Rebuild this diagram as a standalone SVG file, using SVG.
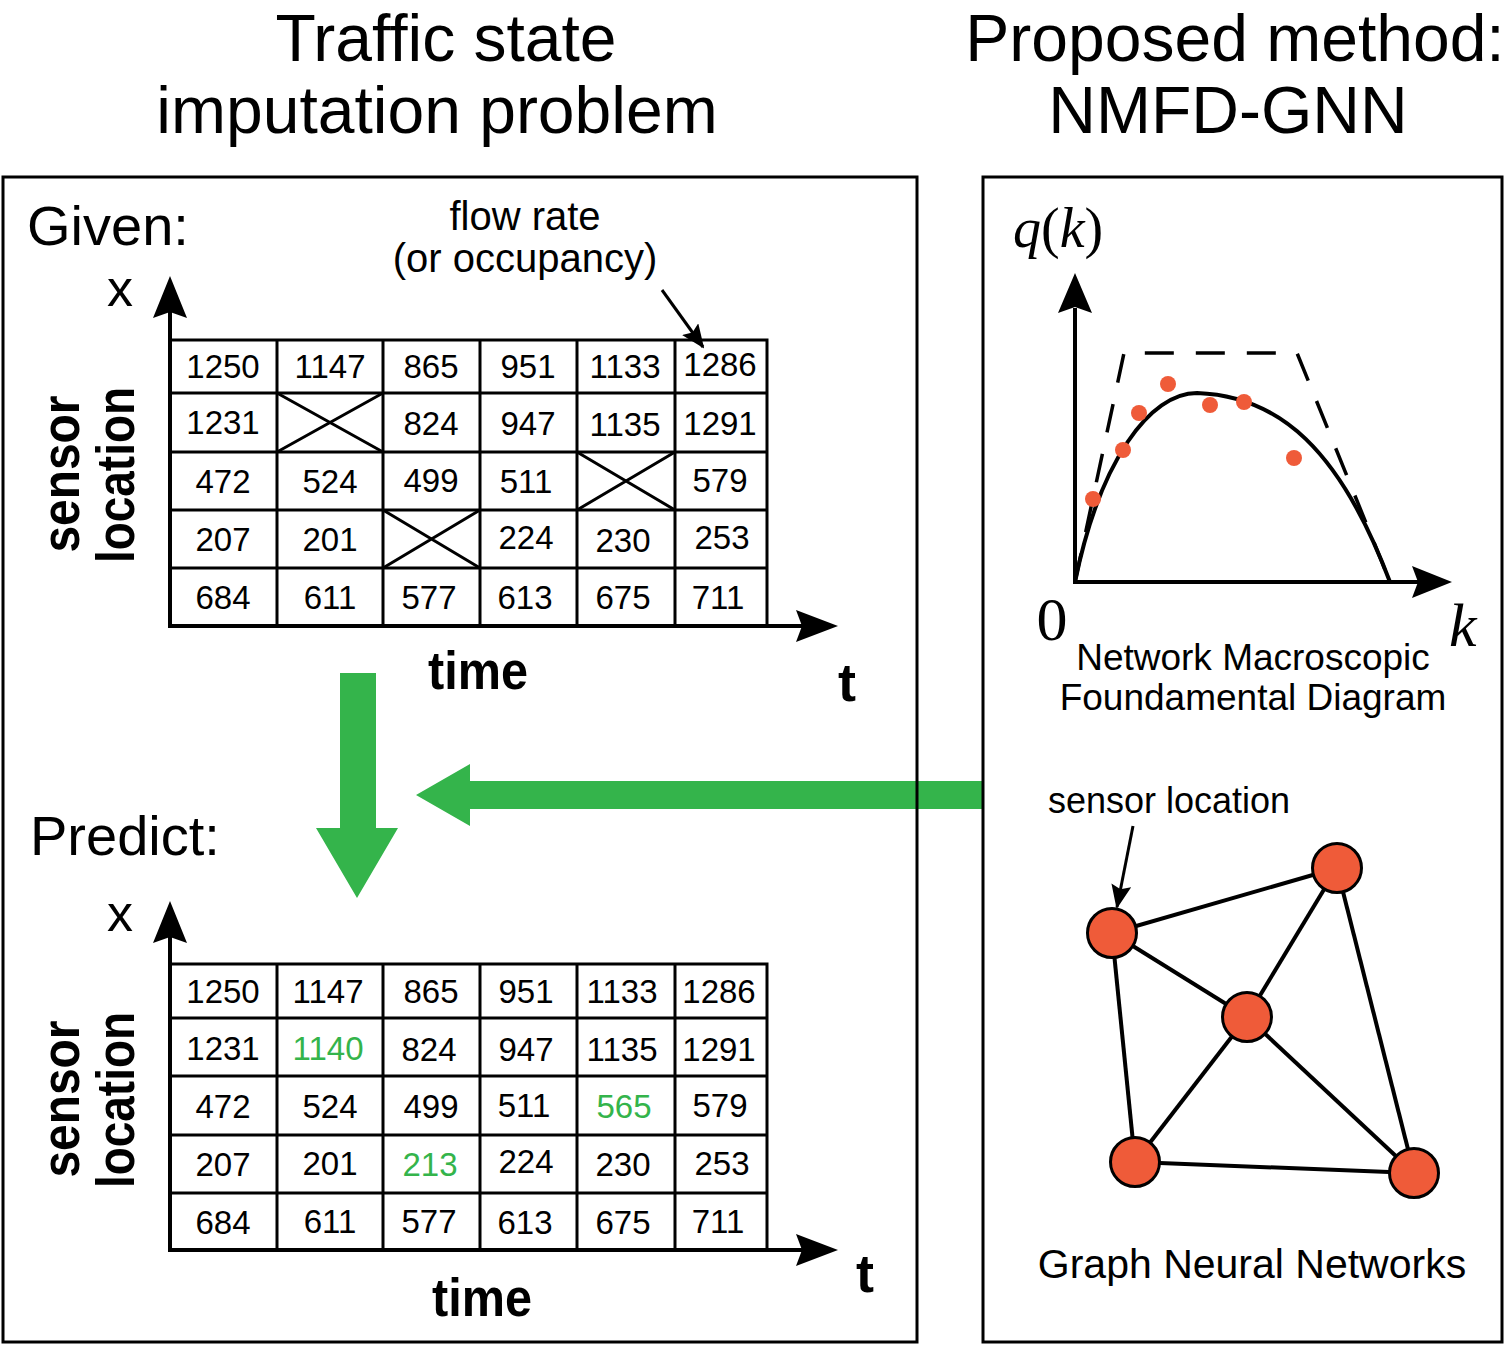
<svg xmlns="http://www.w3.org/2000/svg" width="1510" height="1345" viewBox="0 0 1510 1345">
<style>
.sans{font-family:"Liberation Sans",Arial,Helvetica,sans-serif;fill:#000}
.title{font-size:66px;text-anchor:middle}
.head{font-size:56px}
.cell{font-size:33px;text-anchor:middle}
.green{fill:#34b44b}
.grid{stroke:#000;stroke-width:3;fill:none}
.bold{font-weight:bold}
.serif{font-family:"Liberation Serif","Times New Roman",serif;fill:#000}
.edge{stroke:#000;stroke-width:4}
.node{fill:#ef5b39;stroke:#000;stroke-width:3}
.dot{fill:#ef5b39}
</style>
<defs>
<marker id="ah" viewBox="0 0 24 20" refX="22" refY="10" markerWidth="24" markerHeight="20" markerUnits="userSpaceOnUse" orient="auto">
<path d="M0,0 L24,10 L0,20 L4,10 Z" fill="#000"/>
</marker>
</defs>
<rect width="1510" height="1345" fill="#fff"/>

<g id="titles" class="sans">
<text class="title" x="446" y="61">Traffic state</text>
<text class="title" x="437" y="133">imputation problem</text>
<text class="title" x="1235" y="61">Proposed method:</text>
<text class="title" x="1228" y="133">NMFD-GNN</text>
</g>

<g id="arrows-green" fill="#34b44b">
<polygon points="340,673 376,673 376,828 398,828 357,898 316,828 340,828"/>
<polygon points="983,781 983,809 470,809 470,826 416,795 470,764 470,781"/>
</g>

<g id="panel-left">
<rect x="3" y="177" width="914" height="1165" fill="none" stroke="#000" stroke-width="3"/>
</g>
<g id="panel-right">
<rect x="983" y="177" width="519" height="1165" fill="none" stroke="#000" stroke-width="3"/>
</g>

<g id="given" class="sans">
<text class="head" x="27" y="245">Given:</text>
<text x="525" y="230" font-size="40" text-anchor="middle">flow rate</text>
<text x="525" y="272" font-size="40" text-anchor="middle">(or occupancy)</text>
<line x1="662" y1="290" x2="703" y2="347" stroke="#000" stroke-width="3" marker-end="url(#ah)"/>
<text x="107" y="306" font-size="52">x</text>
<text class="bold" font-size="54" textLength="157" lengthAdjust="spacingAndGlyphs" text-anchor="middle" transform="translate(79,474) rotate(-90)">sensor</text>
<text class="bold" font-size="54" textLength="176" lengthAdjust="spacingAndGlyphs" text-anchor="middle" transform="translate(134,475) rotate(-90)">location</text>
<text class="bold" x="428" y="689" font-size="54" textLength="100" lengthAdjust="spacingAndGlyphs">time</text>
<text class="bold" x="838" y="701" font-size="54">t</text>
</g>

<g id="table-given">
<path class="grid" d="M170,340 H767 V626 M170,393 H767 M170,452 H767 M170,510 H767 M170,568 H767 M277,340 V626 M383,340 V626 M480,340 V626 M577,340 V626 M675,340 V626"/>
<path class="grid" d="M277,393 L383,452 M383,393 L277,452 M577,452 L675,510 M675,452 L577,510 M383,510 L480,568 M480,510 L383,568"/>
<line x1="170" y1="626" x2="802" y2="626" stroke="#000" stroke-width="4"/>
<polygon points="838,626 796,610 802,626 796,642" fill="#000"/>
<line x1="170" y1="628" x2="170" y2="312" stroke="#000" stroke-width="4"/>
<polygon points="170,276 153,318 170,312 187,318" fill="#000"/>
<g class="sans cell">
<text x="223" y="378">1250</text><text x="330" y="378">1147</text><text x="431" y="378">865</text><text x="528" y="378">951</text><text x="625" y="378">1133</text><text x="720" y="376">1286</text>
<text x="223" y="434">1231</text><text x="431" y="435">824</text><text x="528" y="435">947</text><text x="625" y="436">1135</text><text x="720" y="435">1291</text>
<text x="223" y="493">472</text><text x="330" y="493">524</text><text x="431" y="492">499</text><text x="526" y="493">511</text><text x="720" y="492">579</text>
<text x="223" y="551">207</text><text x="330" y="551">201</text><text x="526" y="549">224</text><text x="623" y="552">230</text><text x="722" y="549">253</text>
<text x="223" y="609">684</text><text x="330" y="609">611</text><text x="429" y="609">577</text><text x="525" y="609">613</text><text x="623" y="609">675</text><text x="718" y="609">711</text>
</g>
</g>

<g id="predict" class="sans">
<text class="head" x="30" y="855">Predict:</text>
<text x="107" y="931" font-size="52">x</text>
<text class="bold" font-size="54" textLength="157" lengthAdjust="spacingAndGlyphs" text-anchor="middle" transform="translate(79,1099) rotate(-90)">sensor</text>
<text class="bold" font-size="54" textLength="176" lengthAdjust="spacingAndGlyphs" text-anchor="middle" transform="translate(134,1100) rotate(-90)">location</text>
<text class="bold" x="432" y="1316" font-size="54" textLength="100" lengthAdjust="spacingAndGlyphs">time</text>
<text class="bold" x="856" y="1292" font-size="54">t</text>
</g>

<g id="table-predict">
<path class="grid" d="M170,964 H767 V1250 M170,1018 H767 M170,1076 H767 M170,1135 H767 M170,1193 H767 M277,964 V1250 M383,964 V1250 M480,964 V1250 M577,964 V1250 M675,964 V1250"/>
<line x1="170" y1="1250" x2="802" y2="1250" stroke="#000" stroke-width="4"/>
<polygon points="838,1250 796,1234 802,1250 796,1266" fill="#000"/>
<line x1="170" y1="1252" x2="170" y2="937" stroke="#000" stroke-width="4"/>
<polygon points="170,901 153,943 170,937 187,943" fill="#000"/>
<g class="sans cell">
<text x="223" y="1003">1250</text><text x="328" y="1003">1147</text><text x="431" y="1003">865</text><text x="526" y="1003">951</text><text x="622" y="1003">1133</text><text x="719" y="1003">1286</text>
<text x="223" y="1060">1231</text><text class="green" x="328" y="1060">1140</text><text x="429" y="1061">824</text><text x="526" y="1061">947</text><text x="622" y="1061">1135</text><text x="719" y="1061">1291</text>
<text x="223" y="1118">472</text><text x="330" y="1118">524</text><text x="431" y="1118">499</text><text x="524" y="1117">511</text><text class="green" x="624" y="1118">565</text><text x="720" y="1117">579</text>
<text x="223" y="1176">207</text><text x="330" y="1175">201</text><text class="green" x="430" y="1176">213</text><text x="526" y="1173">224</text><text x="623" y="1176">230</text><text x="722" y="1175">253</text>
<text x="223" y="1234">684</text><text x="330" y="1233">611</text><text x="429" y="1233">577</text><text x="525" y="1234">613</text><text x="623" y="1234">675</text><text x="718" y="1233">711</text>
</g>
</g>

<g id="nmfd">
<text class="serif" x="1013" y="247" font-size="56"><tspan font-style="italic">q</tspan>(<tspan font-style="italic">k</tspan>)</text>
<line x1="1075" y1="584" x2="1075" y2="308" stroke="#000" stroke-width="4"/>
<polygon points="1075,273 1058,313 1075,307 1092,313" fill="#000"/>
<line x1="1073" y1="582" x2="1418" y2="582" stroke="#000" stroke-width="4"/>
<polygon points="1452,582 1412,566 1418,582 1412,598" fill="#000"/>
<path d="M1075,582 L1124,353 L1297,353 L1390,582" fill="none" stroke="#000" stroke-width="3.5" stroke-dasharray="29 22"/>
<path d="M1075,582 C1100,460 1150,393 1197,393 C1280,396 1340,450 1390,582" fill="none" stroke="#000" stroke-width="4"/>
<g class="dot">
<circle cx="1093" cy="499" r="8"/><circle cx="1123" cy="450" r="8"/><circle cx="1139" cy="413" r="8"/><circle cx="1168" cy="384" r="8"/><circle cx="1210" cy="405" r="8"/><circle cx="1244" cy="402" r="8"/><circle cx="1294" cy="458" r="8"/>
</g>
<text class="serif" x="1052" y="640" font-size="62" text-anchor="middle">0</text>
<text class="serif" x="1449" y="646" font-size="62" font-style="italic">k</text>
<text class="sans" x="1253" y="670" font-size="37" text-anchor="middle">Network Macroscopic</text>
<text class="sans" x="1253" y="710" font-size="37" text-anchor="middle">Foundamental Diagram</text>
</g>

<g id="gnn-label" class="sans">
<text x="1169" y="813" font-size="36" text-anchor="middle">sensor location</text>
<line x1="1133" y1="826" x2="1117" y2="907" stroke="#000" stroke-width="3" marker-end="url(#ah)"/>
<text x="1252" y="1278" font-size="41" text-anchor="middle">Graph Neural Networks</text>
</g>

<g id="edges">
<line class="edge" x1="1112" y1="933" x2="1337" y2="868"/>
<line class="edge" x1="1112" y1="933" x2="1247" y2="1017"/>
<line class="edge" x1="1112" y1="933" x2="1135" y2="1162"/>
<line class="edge" x1="1337" y1="868" x2="1247" y2="1017"/>
<line class="edge" x1="1337" y1="868" x2="1414" y2="1173"/>
<line class="edge" x1="1247" y1="1017" x2="1135" y2="1162"/>
<line class="edge" x1="1247" y1="1017" x2="1414" y2="1173"/>
<line class="edge" x1="1135" y1="1162" x2="1414" y2="1173"/>
</g>
<g id="node-a"><circle class="node" cx="1112" cy="933" r="24.5"/></g>
<g id="node-b"><circle class="node" cx="1337" cy="868" r="24.5"/></g>
<g id="node-c"><circle class="node" cx="1247" cy="1017" r="24.5"/></g>
<g id="node-d"><circle class="node" cx="1135" cy="1162" r="24.5"/></g>
<g id="node-e"><circle class="node" cx="1414" cy="1173" r="24.5"/></g>
</svg>
